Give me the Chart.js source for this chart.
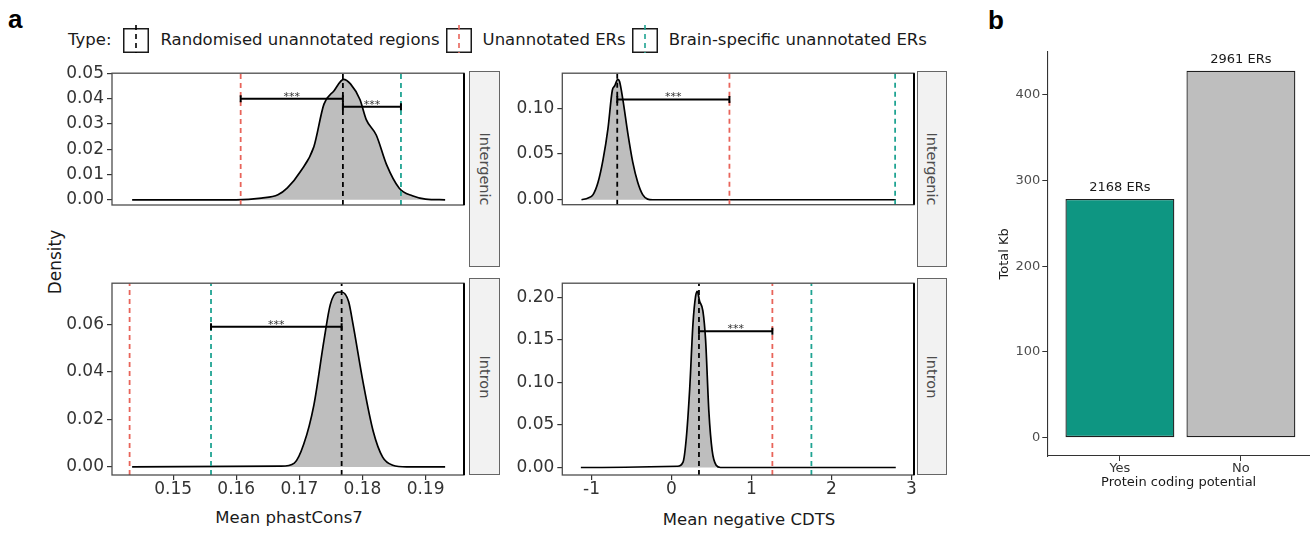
<!DOCTYPE html>
<html><head><meta charset="utf-8">
<script src="https://cdn.jsdelivr.net/npm/chart.js@4.4.1/dist/chart.umd.min.js"></script>
<style>
html,body{margin:0;padding:0;background:#fff;}
#wrap{position:relative;width:1310px;height:537px;overflow:hidden;font-family:"DejaVu Sans",sans-serif;color:#1a1a1a;}
#wrap canvas{position:absolute;}
.strip{position:absolute;background:#f2f2f2;border:1px solid #666;box-sizing:border-box;overflow:hidden;}
.strip span{position:absolute;left:50%;top:50%;transform:translate(-50%,-50%) rotate(90deg);white-space:nowrap;font-size:14.5px;color:#4d4d4d;}
.letter{position:absolute;font-family:"Liberation Sans",Arial,sans-serif;font-weight:bold;font-size:26px;line-height:1;color:#000;}
.ctr{position:absolute;white-space:nowrap;transform:translate(-50%,-50%);font-size:16.5px;color:#1a1a1a;}
#legend{position:absolute;left:68px;top:25px;height:28px;display:flex;align-items:center;font-size:16.5px;color:#1a1a1a;white-space:nowrap;}
#legend svg{display:block;}
</style></head>
<body><div id="wrap">
<div class="letter" style="left:8px;top:6px">a</div>
<div class="letter" style="left:988px;top:7px">b</div>
<div id="legend"></div>
<div class="strip" style="left:469px;top:71px;width:31px;height:196px"><span id="s1"></span></div>
<div class="strip" style="left:469px;top:278px;width:31px;height:197px"><span id="s2"></span></div>
<div class="strip" style="left:917px;top:71px;width:30px;height:196px"><span id="s3"></span></div>
<div class="strip" style="left:917px;top:278px;width:30px;height:197px"><span id="s4"></span></div>
<div class="ctr" id="ylab" style="left:55px;top:262px;transform:translate(-50%,-50%) rotate(-90deg);font-size:17px">Density</div>
<div class="ctr" id="xlab1" style="left:289px;top:517px"></div>
<div class="ctr" id="xlab2" style="left:749px;top:519px"></div>
<canvas id="c_tl" width="420" height="210" style="left:50px;top:60px"></canvas>
<canvas id="c_bl" width="420" height="267" style="left:50px;top:270px"></canvas>
<canvas id="c_tr" width="420" height="210" style="left:500px;top:60px"></canvas>
<canvas id="c_br" width="420" height="267" style="left:500px;top:270px"></canvas>
<canvas id="c_b" width="345" height="537" style="left:965px;top:0px"></canvas>
</div>
<script>
// ---------- DATA ----------
const typeLabels = ['Randomised unannotated regions', 'Unannotated ERs', 'Brain-specific unannotated ERs'];
const typeColors = ['#000000', '#E8645A', '#1FA392'];
const facetLabels = ['Intergenic', 'Intron'];
const xTitles = ['Mean phastCons7', 'Mean negative CDTS'];
const sigLabel = '***';

// density of randomised regions: phastCons7, intergenic
const phastX_inter = [0.1435,0.1600,0.1640,0.1666,0.1681,0.1702,0.1723,0.1739,0.1755,0.1770,0.1781,0.1796,0.1806,0.1822,0.1838,0.1858,0.1879,0.1900,0.1931];
const phastY_inter = [0,0,0.0007,0.0020,0.0047,0.0113,0.0210,0.0378,0.0431,0.0476,0.0458,0.0396,0.0317,0.0255,0.0140,0.0047,0.0016,0.0003,0];
// phastCons7, intron
const phastX_intron = [0.1435,0.1671,0.1692,0.1707,0.1723,0.1739,0.1749,0.1760,0.1767,0.1778,0.1785,0.1801,0.1817,0.1832,0.1848,0.1870,0.1931];
const phastY_intron = [0,0.0003,0.0016,0.0096,0.0260,0.0532,0.0682,0.0734,0.0735,0.0695,0.0600,0.0355,0.0150,0.0041,0.0007,0,0];
// CDTS, intergenic
const cdtsX_inter = [-1.125,-1.042,-0.980,-0.918,-0.856,-0.794,-0.740,-0.711,-0.670,-0.649,-0.608,-0.546,-0.484,-0.422,-0.360,-0.298,-0.236,2.805];
const cdtsY_inter = [0,0.0019,0.0056,0.0191,0.0436,0.0779,0.1196,0.1245,0.1318,0.1294,0.1098,0.0730,0.0412,0.0191,0.0056,0.0007,0,0];
// CDTS, intron
const cdtsX_intron = [-1.133,0.075,0.145,0.186,0.228,0.269,0.302,0.323,0.352,0.393,0.427,0.468,0.509,0.559,0.613,2.805];
const cdtsY_intron = [0,0.0015,0.0064,0.035,0.0923,0.1687,0.2012,0.2069,0.1954,0.184,0.1496,0.0656,0.0198,0.0026,0,0];

// means per type (order of typeLabels)
const phastMeans_inter = [0.1769, 0.1607, 0.1861];
const phastMeans_intron = [0.1767, 0.1431, 0.1560];
const cdtsMeans_inter = [-0.678, 0.725, 2.797];
const cdtsMeans_intron = [0.344, 1.262, 1.750];

// significance brackets [from, to, height]
const phastBrackets_inter = [[0.1607, 0.1769, 0.0399], [0.1769, 0.1861, 0.0368]];
const phastBrackets_intron = [[0.1560, 0.1767, 0.0589]];
const cdtsBrackets_inter = [[-0.678, 0.725, 0.1098]];
const cdtsBrackets_intron = [[0.344, 1.262, 0.160]];

// tick values
const phastTicks = [0.15, 0.16, 0.17, 0.18, 0.19];
const cdtsTicks = [-1, 0, 1, 2, 3];
const yTicks_phast_inter = [0, 0.01, 0.02, 0.03, 0.04, 0.05];
const yTicks_phast_intron = [0, 0.02, 0.04, 0.06];
const yTicks_cdts_inter = [0, 0.05, 0.10];
const yTicks_cdts_intron = [0, 0.05, 0.10, 0.15, 0.20];

// panel b
const codingCats = ['Yes', 'No'];
const totalKb = [278.5, 428.2];
const erCounts = [2168, 2961];
const bColors = ['#0E9682', '#BEBEBE'];
const bTicks = [0, 100, 200, 300, 400];
const bTitles = ['Protein coding potential', 'Total Kb'];

// ---------- SETUP ----------
Chart.defaults.font.family = '"DejaVu Sans", sans-serif';
const FONT = '"DejaVu Sans", sans-serif';

// legend, strips, titles
(function(){
  const lg = document.getElementById('legend');
  const t = document.createElement('span'); t.textContent = 'Type:'; t.style.marginRight = '12px'; lg.appendChild(t);
  typeLabels.forEach((lab, i) => {
    const ns = 'http://www.w3.org/2000/svg';
    const svg = document.createElementNS(ns, 'svg');
    svg.setAttribute('width', '26'); svg.setAttribute('height', '28');
    svg.style.marginRight = '11px';
    const r = document.createElementNS(ns, 'rect');
    r.setAttribute('x', '0.75'); r.setAttribute('y', '3.75'); r.setAttribute('width', '24.5'); r.setAttribute('height', '23.5');
    r.setAttribute('fill', '#fff'); r.setAttribute('stroke', '#1a1a1a'); r.setAttribute('stroke-width', '1.5');
    const l = document.createElementNS(ns, 'line');
    l.setAttribute('x1', '13'); l.setAttribute('x2', '13'); l.setAttribute('y1', '0'); l.setAttribute('y2', '28');
    l.setAttribute('stroke', typeColors[i]); l.setAttribute('stroke-width', '1.6'); l.setAttribute('stroke-dasharray', '5,4');
    svg.appendChild(r); svg.appendChild(l);
    lg.appendChild(svg);
    const s = document.createElement('span'); s.textContent = lab;
    if (i < typeLabels.length - 1) s.style.marginRight = '6px';
    lg.appendChild(s);
  });
  document.getElementById('s1').textContent = facetLabels[0];
  document.getElementById('s2').textContent = facetLabels[1];
  document.getElementById('s3').textContent = facetLabels[0];
  document.getElementById('s4').textContent = facetLabels[1];
  document.getElementById('xlab1').textContent = xTitles[0];
  document.getElementById('xlab2').textContent = xTitles[1];
})();

const framePlugin = {
  id: 'frame',
  afterDatasetsDraw(chart) {
    const {ctx, chartArea: a} = chart;
    ctx.save();
    ctx.strokeStyle = '#4d4d4d'; ctx.lineWidth = 1.3;
    ctx.strokeRect(a.left, a.top, a.right - a.left, a.bottom - a.top);
    ctx.strokeStyle = '#000'; ctx.lineWidth = 2;
    ctx.beginPath(); ctx.moveTo(a.right, a.top); ctx.lineTo(a.right, a.bottom); ctx.stroke();
    chart.data.datasets.forEach((ds, i) => {
      if (!ds.sig) return;
      const pts = chart.getDatasetMeta(i).data;
      const mx = (pts[0].x + pts[1].x) / 2, my = pts[0].y;
      ctx.fillStyle = '#333'; ctx.font = '11px ' + FONT;
      ctx.textAlign = 'center'; ctx.textBaseline = 'alphabetic';
      ctx.fillText(ds.sig, mx, my + 1);
    });
    ctx.restore();
  }
};

function densityChart(id, o) {
  const datasets = [];
  datasets.push({
    data: o.x.map((v, i) => ({x: v, y: o.y[i]})),
    fill: 'origin', backgroundColor: '#bebebe', borderColor: '#000', borderWidth: 1.7,
    pointRadius: 0, cubicInterpolationMode: 'monotone', order: 10
  });
  o.means.forEach((m, i) => datasets.push({
    data: [{x: m, y: o.yMin}, {x: m, y: o.yMax}],
    borderColor: typeColors[i], borderDash: [5, 4], borderWidth: 1.8,
    pointRadius: 0, fill: false, order: 5 - i
  }));
  o.brackets.forEach(b => datasets.push({
    data: [{x: b[0], y: b[2]}, {x: b[1], y: b[2]}],
    borderColor: '#000', borderWidth: 2, fill: false, order: 0,
    pointStyle: 'line', rotation: 90, pointRadius: 3.5, pointBorderWidth: 2, pointBorderColor: '#000',
    sig: sigLabel
  }));
  const tickFont = {family: FONT, size: 17};
  return new Chart(document.getElementById(id), {
    type: 'line',
    data: {datasets},
    options: {
      responsive: false, animation: false, events: [],
      layout: {padding: o.pad},
      plugins: {legend: {display: false}, tooltip: {enabled: false}},
      scales: {
        x: {
          type: 'linear', min: o.xMin, max: o.xMax, display: o.showX,
          afterBuildTicks: s => { s.ticks = o.xTicks.map(v => ({value: v})); },
          afterFit: s => { s.height = 62; },
          ticks: {callback: v => v.toFixed(o.xDec), font: tickFont, color: '#333', padding: -1, maxRotation: 0, autoSkip: false},
          grid: {display: true, drawOnChartArea: false, drawTicks: true, tickLength: 5, color: '#333', lineWidth: 1.2},
          border: {display: false}
        },
        y: {
          type: 'linear', min: o.yMin, max: o.yMax,
          afterBuildTicks: s => { s.ticks = o.yTicks.map(v => ({value: v})); },
          afterFit: s => { s.width = o.yW; },
          ticks: {callback: v => v.toFixed(2), font: tickFont, color: '#333', padding: 3},
          grid: {display: true, drawOnChartArea: false, drawTicks: true, tickLength: 5, color: '#333', lineWidth: 1.2},
          border: {display: false}
        }
      }
    },
    plugins: [framePlugin]
  });
}

const phastRange = [0.14031, 0.19609];
const cdtsRange = [-1.365, 3.033];

densityChart('c_tl', {x: phastX_inter, y: phastY_inter, means: phastMeans_inter, brackets: phastBrackets_inter,
  xMin: phastRange[0], xMax: phastRange[1], yMin: -0.00204, yMax: 0.0500, yTicks: yTicks_phast_inter,
  xTicks: phastTicks, xDec: 2, showX: false, yW: 62, pad: {top: 11, right: 1, bottom: 3, left: 0}});
densityChart('c_bl', {x: phastX_intron, y: phastY_intron, means: phastMeans_intron, brackets: phastBrackets_intron,
  xMin: phastRange[0], xMax: phastRange[1], yMin: -0.0034, yMax: 0.0772, yTicks: yTicks_phast_intron,
  xTicks: phastTicks, xDec: 2, showX: true, yW: 62, pad: {top: 8, right: 1, bottom: 0, left: 0}});
densityChart('c_tr', {x: cdtsX_inter, y: cdtsY_inter, means: cdtsMeans_inter, brackets: cdtsBrackets_inter,
  xMin: cdtsRange[0], xMax: cdtsRange[1], yMin: -0.0054, yMax: 0.1385, yTicks: yTicks_cdts_inter,
  xTicks: cdtsTicks, xDec: 0, showX: false, yW: 62.3, pad: {top: 11, right: 3.3, bottom: 3.3, left: 0}});
densityChart('c_br', {x: cdtsX_intron, y: cdtsY_intron, means: cdtsMeans_intron, brackets: cdtsBrackets_intron,
  xMin: cdtsRange[0], xMax: cdtsRange[1], yMin: -0.0088, yMax: 0.2165, yTicks: yTicks_cdts_intron,
  xTicks: cdtsTicks, xDec: 0, showX: true, yW: 62.3, pad: {top: 8.3, right: 3.3, bottom: 0, left: 0}});

// ---------- panel b ----------
const barLabelPlugin = {
  id: 'barLabels',
  afterDatasetsDraw(chart) {
    const {ctx} = chart;
    const meta = chart.getDatasetMeta(0);
    ctx.save();
    ctx.fillStyle = '#1a1a1a'; ctx.font = '13px ' + FONT;
    ctx.textAlign = 'center'; ctx.textBaseline = 'middle';
    meta.data.forEach((bar, i) => ctx.fillText(erCounts[i] + ' ERs', bar.x, bar.y - 11.5));
    ctx.restore();
  }
};
new Chart(document.getElementById('c_b'), {
  type: 'bar',
  data: {datasets: [{
    data: codingCats.map((c, i) => ({x: i + 1, y: totalKb[i]})),
    backgroundColor: bColors, borderColor: '#1f1f1f', borderWidth: 1.3, borderSkipped: false,
    barPercentage: 0.9, categoryPercentage: 1
  }]},
  options: {
    responsive: false, animation: false, events: [],
    layout: {padding: {top: 51.7, right: 0, bottom: 0, left: 0}},
    plugins: {legend: {display: false}, tooltip: {enabled: false}},
    scales: {
      x: {
        type: 'linear', min: 0.4, max: 2.571, offset: false,
        afterBuildTicks: s => { s.ticks = codingCats.map((c, i) => ({value: i + 1})); },
        afterFit: s => { s.height = 81; },
        ticks: {callback: v => codingCats[Math.round(v) - 1], font: {family: FONT, size: 13}, color: '#333', padding: 0, maxRotation: 0, autoSkip: false},
        grid: {display: true, drawOnChartArea: false, drawTicks: true, tickLength: 5, color: '#333', offset: false},
        border: {display: true, color: '#333', width: 1.1},
        title: {display: true, text: bTitles[0], font: {family: FONT, size: 13}, color: '#1a1a1a', padding: {top: 0, bottom: 46.7}}
      },
      y: {
        type: 'linear', min: -21.4, max: 450.5,
        afterBuildTicks: s => { s.ticks = bTicks.map(v => ({value: v})); },
        afterFit: s => { s.width = 82.3; },
        ticks: {font: {family: FONT, size: 13}, color: '#4d4d4d', padding: 2},
        grid: {display: true, drawOnChartArea: false, drawTicks: true, tickLength: 5, color: '#333'},
        border: {display: true, color: '#333', width: 1.1},
        title: {display: true, text: bTitles[1], font: {family: FONT, size: 13}, color: '#1a1a1a', padding: {top: 32.2, bottom: 0}}
      }
    }
  },
  plugins: [barLabelPlugin]
});
</script>
</body></html>
